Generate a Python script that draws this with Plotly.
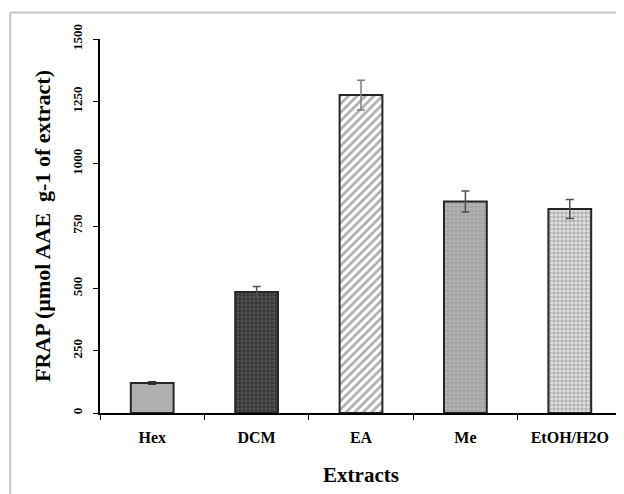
import plotly.graph_objects as go

categories = ["Hex", "DCM", "EA", "Me", "EtOH/H2O"]
frap_values = [120, 485, 1275, 848, 818]
frap_errors = [5, 22, 60, 42, 38]
y_ticks = [0, 250, 500, 750, 1000, 1250, 1500]

FONT = "Liberation Serif"

styles = [
    dict(color="#b0b0b0", shape="", fg="#b0b0b0", size=6, sol=0.3, err="#303030"),
    dict(color="#383838", shape=".", fg="#6e6e6e", size=4, sol=0.4, err="#505050"),
    dict(color="#ffffff", shape="/", fg="#5c5c5c", size=6, sol=0.45, err="#808080"),
    dict(color="#a6a6a6", shape=".", fg="#c6c6c6", size=4, sol=0.3, err="#505050"),
    dict(color="#e2e2e2", shape="+", fg="#4c4c4c", size=4, sol=0.35, err="#505050"),
]

fig = go.Figure()
for cat, val, err, st in zip(categories, frap_values, frap_errors, styles):
    pattern = dict(shape=st["shape"], fgcolor=st["fg"], bgcolor=st["color"],
                   size=st["size"], solidity=st["sol"], fillmode="overlay")
    fig.add_trace(go.Bar(
        x=[cat], y=[val], width=0.41,
        marker=dict(color=st["color"], line=dict(color="#262626", width=2),
                    pattern=pattern),
        error_y=dict(type="data", array=[err], color=st["err"],
                     thickness=1.5, width=4, visible=True),
        showlegend=False,
    ))

# light gray frame around the figure (left and top edges visible)
fig.add_shape(type="line", xref="paper", yref="paper",
              x0=-0.172, y0=-0.25, x1=-0.172, y1=1.071,
              line=dict(color="#c4c4c4", width=2))
fig.add_shape(type="line", xref="paper", yref="paper",
              x0=-0.172, y0=1.071, x1=1.03, y1=1.071,
              line=dict(color="#c4c4c4", width=2))

fig.update_layout(
    width=624, height=494,
    margin=dict(l=92, r=10, t=31, b=89, autoexpand=False),
    paper_bgcolor="white", plot_bgcolor="white",
    font=dict(family=FONT, color="black", weight="bold"),
    barmode="overlay",
)
fig.update_xaxes(
    automargin=False,
    showline=True, linecolor="black", linewidth=1.5,
    ticks="outside", tickson="boundaries", ticklen=5, tickcolor="black",
    tickfont=dict(family=FONT, size=16, weight="bold"),
    ticklabelstandoff=9,
    title=dict(text="Extracts", font=dict(family=FONT, size=21, weight="bold"), standoff=22),
    showgrid=False, zeroline=False,
)
fig.update_yaxes(
    automargin=False,
    range=[0, 1500], tickvals=y_ticks,
    showline=True, linecolor="black", linewidth=1.5,
    ticks="outside", ticklen=5, tickcolor="black",
    tickangle=-90,
    tickfont=dict(family=FONT, size=13, weight="bold"),
    ticklabelstandoff=6,
    title=dict(text="FRAP (µmol AAE  g-1 of extract)", font=dict(family=FONT, size=22, weight="bold"), standoff=13),
    showgrid=False, zeroline=False,
)

fig.write_html("out.html")
